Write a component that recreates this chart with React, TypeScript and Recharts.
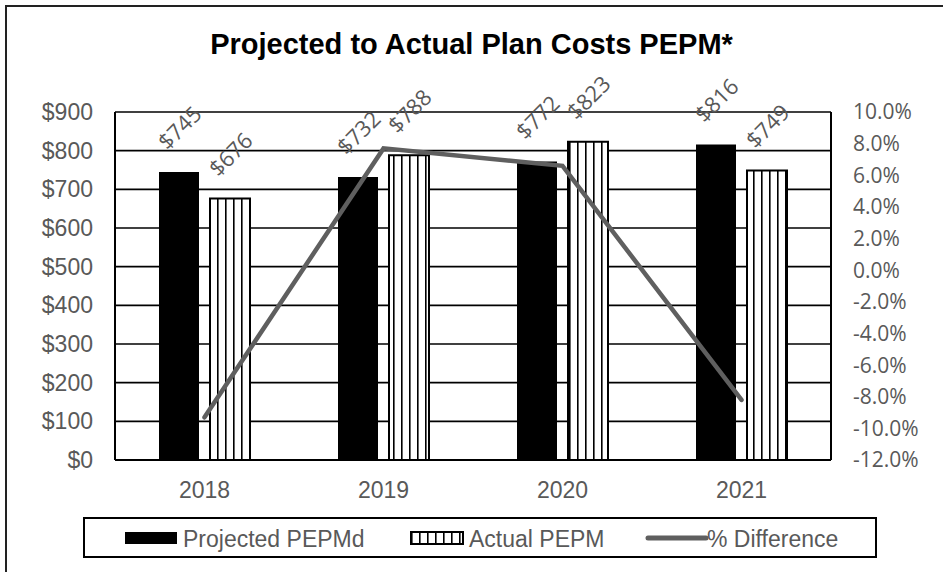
import { ComposedChart, Bar, Line, XAxis, YAxis, CartesianGrid, LabelList } from "recharts";

const years = ["2018", "2019", "2020", "2021"];
const projectedPepm = [745, 732, 772, 816];
const actualPepm = [676, 788, 823, 749];
const pctDifference = [-9.3, 7.7, 6.6, -8.2];
const dollarTicks = [0, 100, 200, 300, 400, 500, 600, 700, 800, 900];
const pctTicks = [-12, -10, -8, -6, -4, -2, 0, 2, 4, 6, 8, 10];

const data = years.map((year, i) => ({
  year,
  projected: projectedPepm[i],
  actual: actualPepm[i],
  diff: pctDifference[i],
}));

const GREY = "#595959";
const LINE = "#5f5f5f";

function RotatedLabel(props: any) {
  const { x, y, width, value } = props;
  const cx = Number(x) + Number(width) / 2;
  const cy = Number(y) - 45;
  return (
    <text
      x={cx}
      y={cy}
      transform={`rotate(-45 ${cx} ${cy})`}
      textAnchor="middle"
      dominantBaseline="central"
      fill={GREY}
      fontSize={22}
      fontFamily="Open Sans"
    >
      {"$" + value}
    </text>
  );
}

const legendText = {
  position: "absolute" as const,
  top: 8,
  fontFamily: "Liberation Sans, Arial",
  fontSize: 23,
  color: GREY,
  lineHeight: "24px",
};

export default function App() {
  return (
    <div style={{ position: "absolute", left: 0, top: 0, width: 943, height: 572, background: "#fff" }}>
      <div
        style={{
          position: "absolute",
          left: 5,
          top: 5,
          right: 0,
          bottom: 0,
          borderTop: "2px solid #222",
          borderLeft: "2px solid #222",
        }}
      />
      <div
        style={{
          position: "absolute",
          left: 0,
          top: 28,
          width: 943,
          textAlign: "center",
          fontFamily: "Liberation Sans, Arial",
          fontWeight: "bold",
          fontSize: 29,
          color: "#000",
          zIndex: 2,
        }}
      >
        Projected to Actual Plan Costs PEPM*
      </div>

      <ComposedChart
        width={943}
        height={572}
        data={data}
        margin={{ top: 112, right: 0, bottom: 72, left: 0 }}
        barGap={11}
        style={{ position: "absolute", left: 0, top: 0 }}
      >
        <defs>
          <pattern id="stripes" patternUnits="userSpaceOnUse" width="8" height="10">
            <rect width="8" height="10" fill="#fff" />
            <rect x="1" width="1.6" height="10" fill="#000" />
          </pattern>
        </defs>
        <CartesianGrid yAxisId="left" vertical={false} stroke="#000" strokeWidth={1.6} />
        <XAxis
          dataKey="year"
          height={40}
          tickSize={0}
          tickMargin={22}
          axisLine={{ stroke: "#000", strokeWidth: 2 }}
          tick={{ fill: GREY, fontSize: 23, fontFamily: "Liberation Sans, Arial" }}
        />
        <YAxis
          yAxisId="left"
          width={115}
          domain={[0, 900]}
          ticks={dollarTicks}
          interval={0}
          tickSize={0}
          tickMargin={22}
          tickFormatter={(v: number) => "$" + v}
          axisLine={{ stroke: "#000", strokeWidth: 2 }}
          tick={{ fill: GREY, fontSize: 23, fontFamily: "Liberation Sans, Arial" }}
        />
        <YAxis
          yAxisId="right"
          orientation="right"
          width={112}
          domain={[-12, 10]}
          ticks={pctTicks}
          interval={0}
          tickSize={0}
          tickMargin={22}
          tickFormatter={(v: number) => v.toFixed(1) + "%"}
          axisLine={{ stroke: "#000", strokeWidth: 2 }}
          tick={{ fill: GREY, fontSize: 21, fontFamily: "Open Sans" }}
        />
        <Bar yAxisId="left" dataKey="projected" fill="#000" barSize={40} isAnimationActive={false}>
          <LabelList dataKey="projected" content={RotatedLabel} />
        </Bar>
        <Bar
          yAxisId="left"
          dataKey="actual"
          fill="url(#stripes)"
          stroke="#000"
          strokeWidth={2}
          barSize={40}
          isAnimationActive={false}
        >
          <LabelList dataKey="actual" content={RotatedLabel} />
        </Bar>
        <Line
          yAxisId="right"
          type="linear"
          dataKey="diff"
          stroke={LINE}
          strokeWidth={4.5}
          strokeLinecap="round"
          dot={false}
          activeDot={false}
          isAnimationActive={false}
        />
      </ComposedChart>

      <div
        style={{
          position: "absolute",
          left: 83,
          top: 517,
          width: 794,
          height: 41,
          boxSizing: "border-box",
          border: "2px solid #000",
          background: "#fff",
        }}
      >
        <div style={{ position: "absolute", left: 40, top: 13, width: 52, height: 12, background: "#000" }} />
        <div style={{ ...legendText, left: 98 }}>Projected PEPMd</div>
        <svg style={{ position: "absolute", left: 325, top: 12 }} width={54} height={14}>
          <rect x={1} y={1} width={52} height={12} fill="url(#stripes)" stroke="#000" strokeWidth={2} />
        </svg>
        <div style={{ ...legendText, left: 384 }}>Actual PEPM</div>
        <svg style={{ position: "absolute", left: 560, top: 11 }} width={64} height={16}>
          <line x1={3} y1={8} x2={61} y2={8} stroke={LINE} strokeWidth={5} strokeLinecap="round" />
        </svg>
        <div style={{ ...legendText, left: 622 }}>% Difference</div>
      </div>
    </div>
  );
}
